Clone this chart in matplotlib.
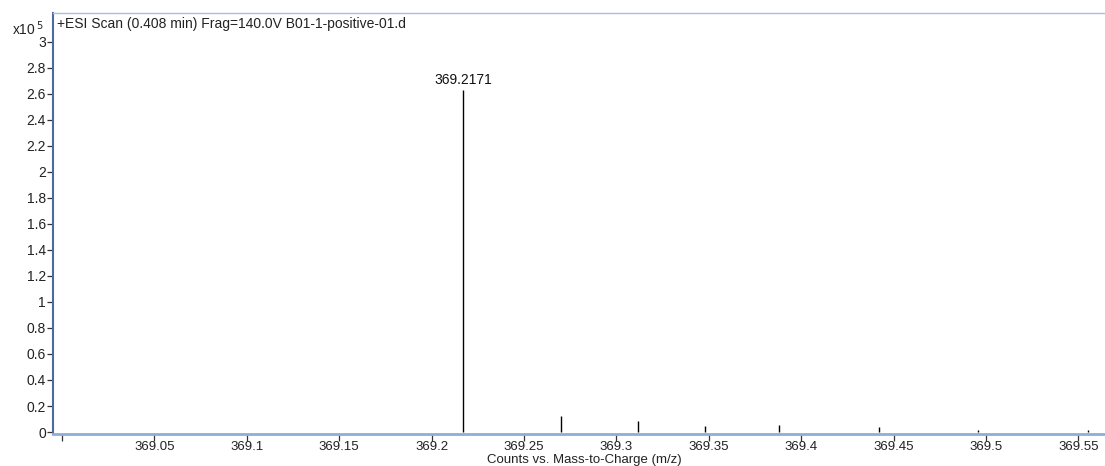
import matplotlib
matplotlib.use("Agg")
import matplotlib.pyplot as plt
import numpy as np

plt.rcParams['font.family'] = ['Liberation Sans', 'DejaVu Sans']

# Data
mz = [369.2171, 369.2700, 369.3115, 369.3480, 369.3880, 369.4420, 369.4958, 369.5550]
counts = [263000, 12000, 8500, 4800, 5300, 3600, 1500, 1500]
labelled_peak = "369.2171"
x_ticks = [369.0, 369.05, 369.1, 369.15, 369.2, 369.25, 369.3, 369.35, 369.4, 369.45, 369.5, 369.55]
y_ticks = [0, 0.2, 0.4, 0.6, 0.8, 1, 1.2, 1.4, 1.6, 1.8, 2, 2.2, 2.4, 2.6, 2.8, 3]
title = "+ESI Scan (0.408 min) Frag=140.0V B01-1-positive-01.d"
xlabel = "Counts vs. Mass-to-Charge (m/z)"

FS = 10

fig = plt.figure(figsize=(11.05, 4.66), dpi=100)
ax = fig.add_axes([53/1105, 32/466, 1 - 53/1105, (434-13)/466])

y = np.array(counts) / 1e5
ax.vlines(mz, 0, y, color='black', linewidth=1.0)
ax.text(mz[0], y[0] + 0.025, labelled_peak, ha='center', va='bottom', fontsize=FS, color='#111111')

ax.set_xlim(368.9951, 369.5644)
ax.set_ylim(-0.015, 3.22)

ax.set_xticks(x_ticks)
ax.set_xticklabels(['' if v == 369.0 else f'{v:g}' for v in x_ticks])
ax.set_yticks(y_ticks)
ax.set_yticklabels([f'{v:g}' for v in y_ticks])
ax.tick_params(axis='both', labelsize=FS, direction='out', length=4, width=0.9, pad=1, colors='#333333')
ax.tick_params(axis='x', length=5, pad=0, labelsize=9.5)
for lab in ax.get_xticklabels() + ax.get_yticklabels():
    lab.set_color('#222222')

ax.spines['left'].set_color('#4a6aa0')
ax.spines['left'].set_linewidth(1.5)
ax.spines['bottom'].set_color('#8fadd8')
ax.spines['bottom'].set_linewidth(2.0)
ax.spines['top'].set_color('#a9c0e0')
ax.spines['top'].set_linewidth(1.0)
ax.spines['right'].set_visible(False)

ax.set_xlabel(xlabel, fontsize=9.5, color='#222222', va='top')
ax.xaxis.set_label_coords((584-53)/(1105-53), -(454-434)/421)

ax.text(57/1105, 1 - 24/466, title, transform=fig.transFigure, ha='left', va='center', fontsize=FS, color='#222222')
fig.text(12/1105, 1 - 29/466, r'x10$^{\,5}$', ha='left', va='center', fontsize=FS, color='#222222')

fig.savefig('out.png', dpi=100)
